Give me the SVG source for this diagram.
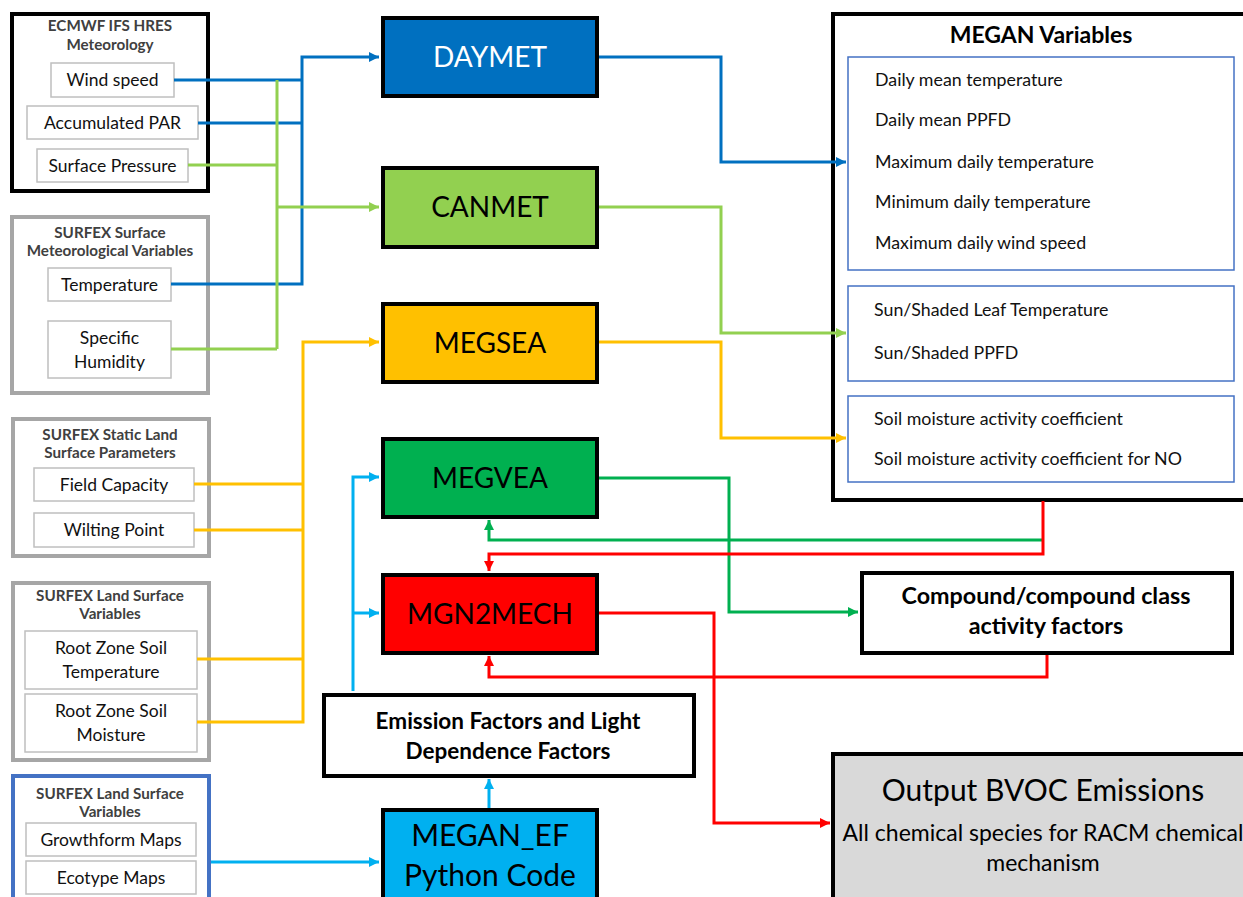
<svg xmlns="http://www.w3.org/2000/svg" width="1243" height="897" viewBox="0 0 1243 897">
<style>
text{font-family:Lato,"Open Sans","Liberation Sans",sans-serif;}
.grp{fill:#fff;stroke-width:4}
.ttl{font-size:15.2px;font-weight:bold;fill:#404040;text-anchor:middle}
.sub{fill:#fff;stroke:#BFBFBF;stroke-width:1.5}
.st{font-size:17.5px;fill:#111;text-anchor:middle}
.node{stroke:#000;stroke-width:4}
.nt{font-size:28px;text-anchor:middle;fill:#000}
.inner{fill:#fff;stroke:#4472C4;stroke-width:1.5}
.mv{font-size:17.8px;fill:#111}
.bt{font-weight:bold;text-anchor:middle;fill:#000}
.c{fill:none;stroke-width:3;stroke-linejoin:miter}
</style>
<defs>
<marker id="aBlue" viewBox="0 0 10 10" refX="10" refY="5" markerWidth="10" markerHeight="10" markerUnits="userSpaceOnUse" orient="auto"><path d="M0,0 L10,5 L0,10 z" fill="#0070C0"/></marker>
<marker id="aLG" viewBox="0 0 10 10" refX="10" refY="5" markerWidth="10" markerHeight="10" markerUnits="userSpaceOnUse" orient="auto"><path d="M0,0 L10,5 L0,10 z" fill="#92D050"/></marker>
<marker id="aY" viewBox="0 0 10 10" refX="10" refY="5" markerWidth="10" markerHeight="10" markerUnits="userSpaceOnUse" orient="auto"><path d="M0,0 L10,5 L0,10 z" fill="#FFC000"/></marker>
<marker id="aG" viewBox="0 0 10 10" refX="10" refY="5" markerWidth="10" markerHeight="10" markerUnits="userSpaceOnUse" orient="auto"><path d="M0,0 L10,5 L0,10 z" fill="#00B050"/></marker>
<marker id="aR" viewBox="0 0 10 10" refX="10" refY="5" markerWidth="10" markerHeight="10" markerUnits="userSpaceOnUse" orient="auto"><path d="M0,0 L10,5 L0,10 z" fill="#FF0000"/></marker>
<marker id="aC" viewBox="0 0 10 10" refX="10" refY="5" markerWidth="10" markerHeight="10" markerUnits="userSpaceOnUse" orient="auto"><path d="M0,0 L10,5 L0,10 z" fill="#00B0F0"/></marker>
</defs>
<rect width="1243" height="897" fill="#fff"/>

<g id="ecmwf">
<rect class="grp" x="12" y="14" width="196" height="177" stroke="#000"/>
<text class="ttl" x="110" y="31">ECMWF IFS HRES</text>
<text class="ttl" x="110" y="50">Meteorology</text>
<rect class="sub" x="51" y="63" width="123" height="34"/><text class="st" x="112.5" y="86">Wind speed</text>
<rect class="sub" x="27" y="106" width="171" height="33"/><text class="st" x="112.5" y="129">Accumulated PAR</text>
<rect class="sub" x="37" y="149" width="151" height="33"/><text class="st" x="112.5" y="172">Surface Pressure</text>
</g>

<g id="surfex-met">
<rect class="grp" x="12" y="217" width="196" height="176" stroke="#A6A6A6"/>
<text class="ttl" x="110" y="238">SURFEX Surface</text>
<text class="ttl" x="110" y="256">Meteorological Variables</text>
<rect class="sub" x="48" y="268" width="123" height="33"/><text class="st" x="109.5" y="291">Temperature</text>
<rect class="sub" x="48" y="321" width="123" height="57"/><text class="st" x="109.5" y="344">Specific</text><text class="st" x="109.5" y="368">Humidity</text>
</g>

<g id="surfex-static">
<rect class="grp" x="13" y="419" width="196" height="137" stroke="#A6A6A6"/>
<text class="ttl" x="110" y="440">SURFEX Static Land</text>
<text class="ttl" x="110" y="458">Surface Parameters</text>
<rect class="sub" x="34" y="468" width="160" height="33"/><text class="st" x="114" y="491">Field Capacity</text>
<rect class="sub" x="34" y="513" width="160" height="34"/><text class="st" x="114" y="536">Wilting Point</text>
</g>

<g id="surfex-land">
<rect class="grp" x="13" y="583" width="196" height="177" stroke="#A6A6A6"/>
<text class="ttl" x="110" y="601">SURFEX Land Surface</text>
<text class="ttl" x="110" y="619">Variables</text>
<rect class="sub" x="25" y="631" width="172" height="58"/><text class="st" x="111" y="654">Root Zone Soil</text><text class="st" x="111" y="678">Temperature</text>
<rect class="sub" x="25" y="694" width="172" height="58"/><text class="st" x="111" y="717">Root Zone Soil</text><text class="st" x="111" y="741">Moisture</text>
</g>

<g id="surfex-land-2">
<rect class="grp" x="13" y="776" width="196" height="130" stroke="#4472C4"/>
<text class="ttl" x="110" y="799">SURFEX Land Surface</text>
<text class="ttl" x="110" y="817">Variables</text>
<rect class="sub" x="26" y="823" width="170" height="33"/><text class="st" x="111" y="846">Growthform Maps</text>
<rect class="sub" x="26" y="861" width="170" height="33"/><text class="st" x="111" y="884">Ecotype Maps</text>
</g>

<g id="megan-variables">
<rect x="833" y="14" width="420" height="486" fill="#fff" stroke="#000" stroke-width="4"/>
<text class="bt" x="1041" y="43" font-size="23">MEGAN Variables</text>
<rect class="inner" x="848" y="57" width="386" height="213"/>
<text class="mv" x="875" y="86">Daily mean temperature</text>
<text class="mv" x="875" y="126">Daily mean PPFD</text>
<text class="mv" x="875" y="168">Maximum daily temperature</text>
<text class="mv" x="875" y="208">Minimum daily temperature</text>
<text class="mv" x="875" y="249">Maximum daily wind speed</text>
<rect class="inner" x="848" y="286" width="386" height="95"/>
<text class="mv" x="874" y="316">Sun/Shaded Leaf Temperature</text>
<text class="mv" x="874" y="359">Sun/Shaded PPFD</text>
<rect class="inner" x="848" y="396" width="386" height="86"/>
<text class="mv" x="874" y="425">Soil moisture activity coefficient</text>
<text class="mv" x="874" y="465">Soil moisture activity coefficient for NO</text>
</g>

<g id="connectors">
<path class="c" stroke="#0070C0" d="M174,80 H302 M198,123 H302 M171,284 H302 V57 H379" marker-end="url(#aBlue)"/>
<path class="c" stroke="#92D050" d="M277,80 V349 M188,165 H277 M171,349 H277"/>
<path class="c" stroke="#92D050" d="M277,207 H379" marker-end="url(#aLG)"/>
<path class="c" stroke="#FFC000" d="M194,484 H303 M194,530 H303 M197,659 H303 M197,722 H303 V342 H379" marker-end="url(#aY)"/>
<path class="c" stroke="#0070C0" d="M599,57 H721 V162 H846" marker-end="url(#aBlue)"/>
<path class="c" stroke="#92D050" d="M599,207 H721 V333 H846" marker-end="url(#aLG)"/>
<path class="c" stroke="#FFC000" d="M599,342 H721 V438 H846" marker-end="url(#aY)"/>
<path class="c" stroke="#00B050" d="M599,478 H729 V612 H858" marker-end="url(#aG)"/>
<path class="c" stroke="#00B050" d="M1043,540 H489 V520" marker-end="url(#aG)"/>
<path class="c" stroke="#FF0000" d="M1043,501 V554 H489 V571" marker-end="url(#aR)"/>
<path class="c" stroke="#FF0000" d="M1047,654 V677 H489 V656" marker-end="url(#aR)"/>
<path class="c" stroke="#FF0000" d="M599,613 H714 V823 H830" marker-end="url(#aR)"/>
<path class="c" stroke="#00B0F0" d="M353,691 V477 H379" marker-end="url(#aC)"/>
<path class="c" stroke="#00B0F0" d="M353,613 H379" marker-end="url(#aC)"/>
<path class="c" stroke="#00B0F0" d="M489,808 V779" marker-end="url(#aC)"/>
<path class="c" stroke="#00B0F0" d="M211,862 H379" marker-end="url(#aC)"/>
</g>

<g id="daymet"><rect class="node" x="383" y="18" width="214" height="78" fill="#0070C0"/><text class="nt" x="490" y="67" style="fill:#fff">DAYMET</text></g>
<g id="canmet"><rect class="node" x="383" y="168" width="214" height="79" fill="#92D050"/><text class="nt" x="490" y="217">CANMET</text></g>
<g id="megsea"><rect class="node" x="383" y="304" width="214" height="78" fill="#FFC000"/><text class="nt" x="490" y="353">MEGSEA</text></g>
<g id="megvea"><rect class="node" x="383" y="439" width="214" height="78" fill="#00B050"/><text class="nt" x="490" y="488">MEGVEA</text></g>
<g id="mgn2mech"><rect class="node" x="383" y="575" width="214" height="78" fill="#FF0000"/><text class="nt" x="490" y="624">MGN2MECH</text></g>
<g id="emission-factors"><rect class="node" x="324" y="695" width="370" height="81" fill="#fff"/><text class="bt" x="508" y="729" font-size="22.5">Emission Factors and Light</text><text class="bt" x="508" y="759" font-size="22.5">Dependence Factors</text></g>
<g id="megan-ef"><rect class="node" x="383" y="810" width="214" height="100" fill="#00B0F0"/><text class="nt" x="490" y="846" style="font-size:30px">MEGAN_EF</text><text class="nt" x="490" y="886" style="font-size:30px">Python Code</text></g>

<g id="compound-factors"><rect x="862" y="573" width="370" height="80" fill="#fff" stroke="#000" stroke-width="4"/><text class="bt" x="1046" y="604" font-size="23.3">Compound/compound class</text><text class="bt" x="1046" y="634" font-size="23.3">activity factors</text></g>

<g id="output"><rect x="833" y="754" width="420" height="150" fill="#D9D9D9" stroke="#000" stroke-width="4"/>
<text x="1043" y="801" font-size="30" text-anchor="middle" fill="#000">Output BVOC Emissions</text>
<text x="1043" y="841" font-size="23" text-anchor="middle" fill="#000">All chemical species for RACM chemical</text>
<text x="1043" y="871" font-size="23" text-anchor="middle" fill="#000">mechanism</text>
</g>
</svg>
